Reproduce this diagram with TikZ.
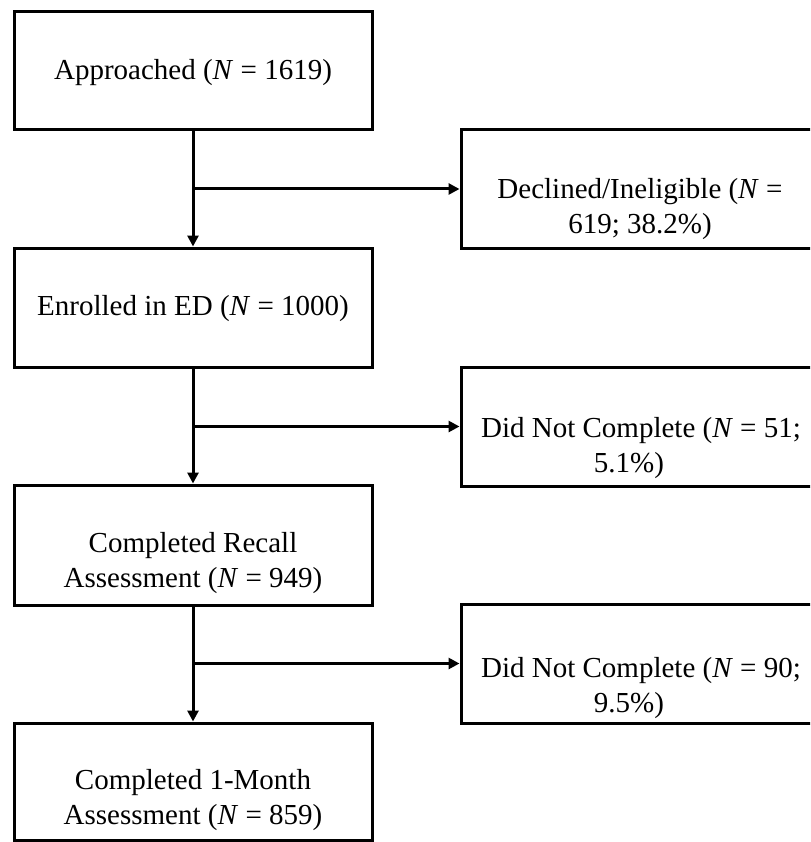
\documentclass[tikz,border=0pt]{standalone}
\usepackage{fontspec}
\setmainfont{Liberation Serif}
\usetikzlibrary{arrows.meta}
\begin{document}
\begin{tikzpicture}[x=1pt,y=-1pt,
  box/.style={draw,line width=3pt,minimum width=358pt,inner sep=0pt},
  rbox/.style={draw,line width=3pt,minimum width=359pt,inner sep=0pt},
  txt/.style={align=center,font=\fontsize{29}{35}\selectfont,inner sep=0pt},
  conn/.style={line width=3pt,-{Triangle[length=11pt,width=11pt]}}]
\clip (0,0) rectangle (810,842);
% left boxes
\node[box,minimum height=118pt] (a) at (193,71) {};
\node[box,minimum height=119pt] (b) at (193,307.5) {};
\node[box,minimum height=120pt] (c) at (193,545) {};
\node[box,minimum height=117pt] (d) at (193,781.5) {};
% right boxes
\node[rbox,minimum height=118pt] (r1) at (640.5,189) {};
\node[rbox,minimum height=119pt] (r2) at (640.5,426.5) {};
\node[rbox,minimum height=119pt] (r3) at (640.5,663.5) {};
% texts
\node[txt] (ta) at (193,73) {Approached (\textit{N} = 1619)};
\node[txt] (tb) at (193,309) {Enrolled in ED (\textit{N} = 1000)};
\node[txt] (tc) at (193,563) {Completed Recall\\Assessment (\textit{N} = 949)};
\node[txt] (td) at (193,800) {Completed 1-Month\\Assessment (\textit{N} = 859)};
\node[txt] (tr1) at (640,209) {Declined/Ineligible (\textit{N} =\\619; 38.2\%)};
\node[txt] (tr2) at (641,448) {Did Not Complete (\textit{N} = 51;\\5.1\%)\hspace*{24pt}};
\node[txt] (tr3) at (641,688) {Did Not Complete (\textit{N} = 90;\\9.5\%)\hspace*{24pt}};
% connectors
\draw[conn] (a.south) -- (b.north);
\draw[conn] (b.south) -- (c.north);
\draw[conn] (c.south) -- (d.north);
\draw[conn] (a.south |- r1.west) -- (r1.west);
\draw[conn] (b.south |- r2.west) -- (r2.west);
\draw[conn] (c.south |- r3.west) -- (r3.west);
\end{tikzpicture}
\end{document}
